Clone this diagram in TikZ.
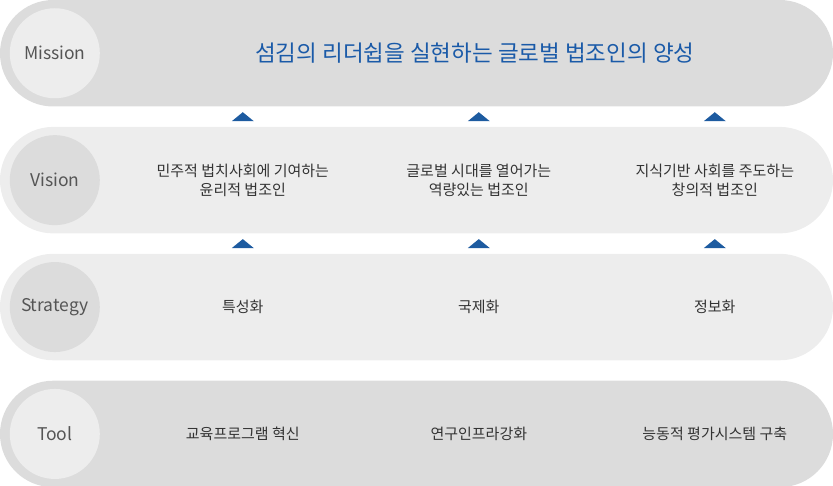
\documentclass[tikz,border=0pt]{standalone}
\usepackage{fontspec}
\setmainfont{Noto Sans CJK KR}
\usetikzlibrary{positioning,calc}
\definecolor{bardark}{HTML}{DCDCDC}
\definecolor{barlight}{HTML}{EDEDED}
\definecolor{labelgray}{HTML}{555555}
\definecolor{textgray}{HTML}{333333}
\definecolor{missionblue}{HTML}{1A5AA8}
\definecolor{tipblue}{HTML}{1D5BA0}

\begin{document}
\begin{tikzpicture}[x=1pt,y=-1pt,node distance=20pt,
  bar/.style={minimum width=833pt,minimum height=106.5pt,rounded corners=53.25pt,inner sep=0pt},
  tag/.style={circle,minimum size=90pt,inner sep=0pt,text=labelgray,font=\fontsize{17.5}{17.5}\selectfont},
  item/.style={text=textgray,align=center,font=\fontsize{15}{19.5}\selectfont},
  uptip/.style={fill=tipblue}]
\useasboundingbox (0,0) rectangle (833,486);
\node[bar,fill=bardark](mission) at (416.5,53.25) {};
\node[bar,fill=barlight,below=of mission](vision) {};
\node[bar,fill=barlight,below=of vision](strategy) {};
\node[bar,fill=bardark,below=of strategy](tool) {};
\node[tag,fill=barlight] (missiontag) at ([xshift=55pt]mission.west) {Mission};
\node[tag,fill=bardark] (visiontag) at ([xshift=55pt]vision.west) {Vision};
\node[tag,fill=bardark] (strategytag) at ([xshift=55pt]strategy.west) {Strategy};
\node[tag,fill=barlight] (tooltag) at ([xshift=55pt]tool.west) {Tool};
\node[text=missionblue,font=\fontsize{22.5}{22.5}\selectfont] (goal) at ([xshift=475pt]mission.west) {섬김의 리더쉽을 실현하는 글로벌 법조인의 양성};
\node[item] (v1) at ([xshift=243pt]vision.west) {민주적 법치사회에 기여하는\\윤리적 법조인};
\node[item] (v2) at ([xshift=479pt]vision.west) {글로벌 시대를 열어가는\\역량있는 법조인};
\node[item] (v3) at ([xshift=715pt]vision.west) {지식기반 사회를 주도하는\\창의적 법조인};
\node[item] (s1) at ([xshift=243pt]strategy.west) {특성화};
\node[item] (s2) at ([xshift=479pt]strategy.west) {국제화};
\node[item] (s3) at ([xshift=715pt]strategy.west) {정보화};
\node[item] (t1) at ([xshift=243pt]tool.west) {교육프로그램 혁신};
\node[item] (t2) at ([xshift=479pt]tool.west) {연구인프라강화};
\node[item] (t3) at ([xshift=715pt]tool.west) {능동적 평가시스템 구축};
\foreach \col in {243,479,715}{
  \coordinate (tipa) at ($([xshift=\col pt]mission.south west)!0.5!([xshift=\col pt]vision.north west)$);
  \coordinate (tipb) at ($([xshift=\col pt]vision.south west)!0.5!([xshift=\col pt]strategy.north west)$);
  \fill[uptip] (tipa) ++(-11,4.5) -- ++(22,0) -- ++(-11,-9) -- cycle;
  \fill[uptip] (tipb) ++(-11,4.5) -- ++(22,0) -- ++(-11,-9) -- cycle;
}
\end{tikzpicture}
\end{document}
